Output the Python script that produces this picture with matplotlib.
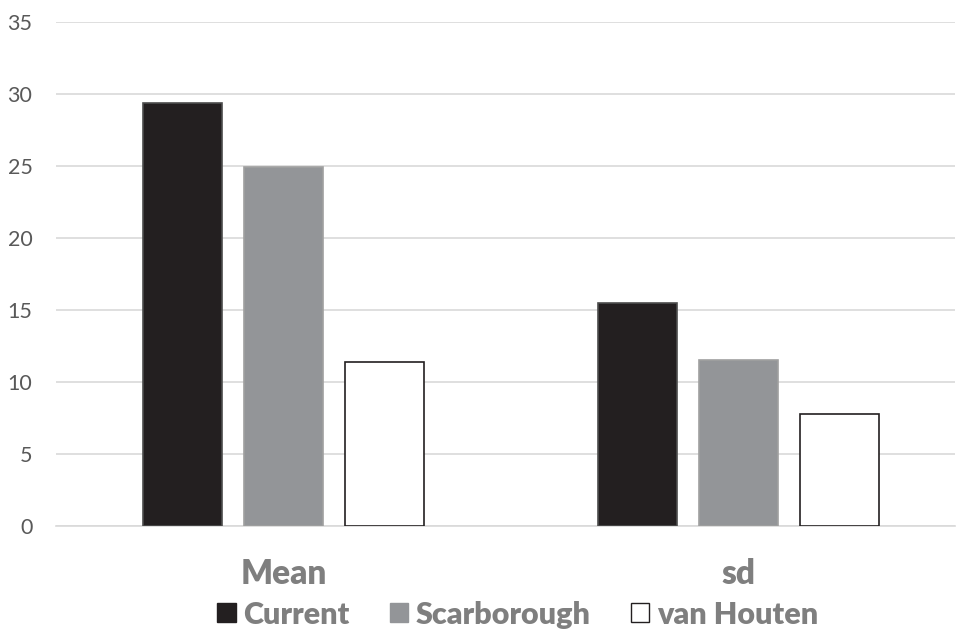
import matplotlib.pyplot as plt
import numpy as np
from matplotlib.patches import Patch

# datos
categorias = ['Mean', 'sd']
series = ['Current', 'Scarborough', 'van Houten']
current = [29.4, 15.5]
scarborough = [24.9, 11.5]
van_houten = [11.4, 7.8]

colores = ['#231f20', '#939598', '#ffffff']
bordes = ['#4d4d4d', '#a0a0a0', '#231f20']

plt.rcParams['font.family'] = ['Lato', 'DejaVu Sans']

fig = plt.figure(figsize=(9.57, 6.29), dpi=100)
ax = fig.add_axes([56 / 957, 103 / 629, 899 / 957, 504 / 629])

x = np.arange(len(categorias))
ancho = 0.174
paso = 0.222
valores = [current, scarborough, van_houten]
for i, serie in enumerate(series):
    ax.bar(x + (i - 1) * paso, valores[i], width=ancho, color=colores[i],
           edgecolor=bordes[i], linewidth=1.2, label=serie, zorder=3)

ax.set_ylim(0, 35)
ax.set_yticks(range(0, 36, 5))
ax.set_xlim(-0.5, 1.476)
ax.grid(axis='y', color='#d9d9d9', linewidth=1.2, zorder=0)
for s in ['top', 'right', 'left']:
    ax.spines[s].set_visible(False)
ax.spines['bottom'].set_color('#d9d9d9')
ax.spines['bottom'].set_linewidth(1.2)
ax.tick_params(axis='y', length=0, labelsize=15.5, labelcolor='#595959', pad=17)
ax.tick_params(axis='x', length=0, pad=23)
ax.set_xticks(x)
ax.set_xticklabels(categorias, fontsize=24, fontweight='heavy', color='#7f7f7f')

handles = [Patch(facecolor=colores[i], edgecolor=bordes[i] if i == 2 else colores[i], label=series[i])
           for i in range(3)]
leg = fig.legend(handles=handles, loc='center', bbox_to_anchor=(0.541, 0.023), ncol=3,
                 frameon=False, handlelength=0.6, handleheight=0.6, handletextpad=0.26,
                 columnspacing=1.3,
                 prop={'weight': 'heavy', 'size': 22})
for t in leg.get_texts():
    t.set_color('#7f7f7f')

plt.savefig('out.png', dpi=100)
